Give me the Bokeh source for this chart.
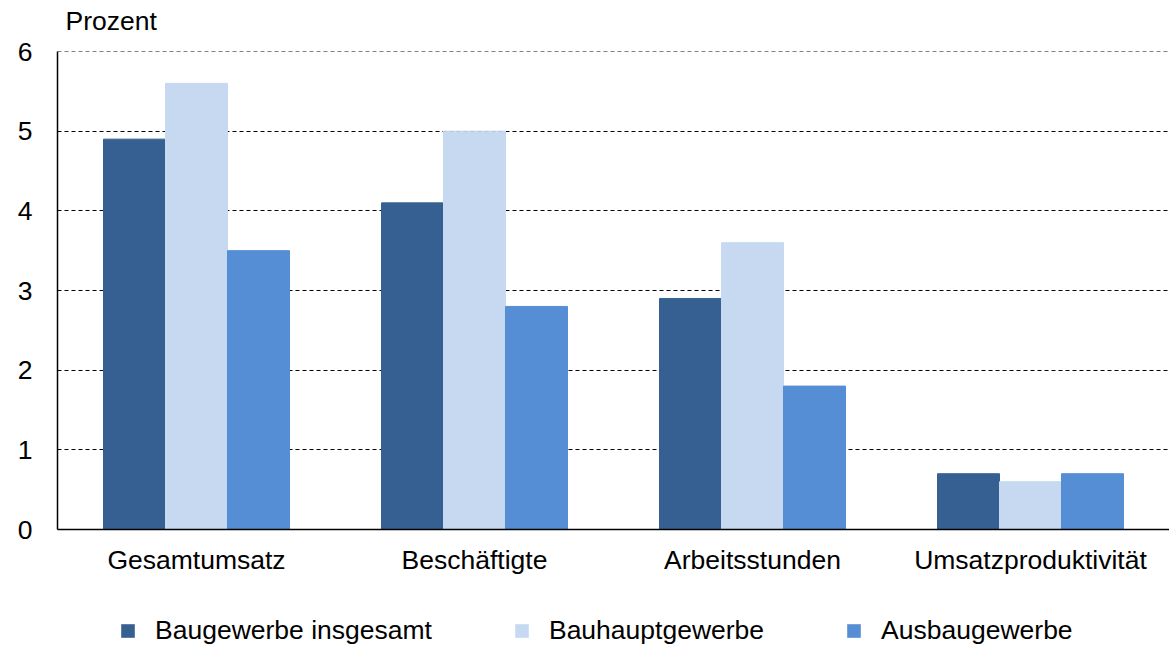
from bokeh.plotting import figure
from bokeh.layouts import column
from bokeh.models import ColumnDataSource, FactorRange, Range1d, Legend, LegendItem, FixedTicker, Span, Label
from bokeh.transform import dodge
from bokeh.embed import file_html
from bokeh.resources import INLINE

categories = ["Gesamtumsatz", "Beschäftigte", "Arbeitsstunden", "Umsatzproduktivität"]
series_names = ["Baugewerbe insgesamt", "Bauhauptgewerbe", "Ausbaugewerbe"]
baugewerbe = [4.9, 4.1, 2.9, 0.7]
bauhaupt = [5.6, 5.0, 3.6, 0.6]
ausbau = [3.5, 2.8, 1.8, 0.7]
y_ticks = [0, 1, 2, 3, 4, 5, 6]
unit_label = "Prozent"

colors = ["#376092", "#C6D9F1", "#558ED5"]
FONT = "Liberation Sans"
FS = "26.5px"

src = ColumnDataSource(dict(cat=categories, a=baugewerbe, b=bauhaupt, c=ausbau))
cols = ["a", "b", "c"]

W = 1169
H_TOP = 36
H_LEG = 60
H_MAIN = 646 - H_TOP - H_LEG


def strip(height, x_range):
    f = figure(width=W, height=height, x_range=x_range, y_range=Range1d(1000, 1001),
               output_backend="svg", toolbar_location=None, x_axis_type=None, y_axis_type=None,
               min_border=0)
    f.min_border_left = 0
    f.min_border_right = 0
    f.min_border_top = 0
    f.min_border_bottom = 0
    f.outline_line_color = None
    f.xgrid.grid_line_color = None
    f.ygrid.grid_line_color = None
    return f


xr = FactorRange(*categories, range_padding=0)

# top strip with unit label
p0 = strip(H_TOP, xr)
p0.add_layout(Label(x=8, y=16, x_units="screen", y_units="screen", text=unit_label,
                    text_font=FONT, text_font_size=FS, text_baseline="middle", text_align="left",
                    text_color="black"))

# main chart
p = figure(x_range=xr, y_range=Range1d(0, 6),
           width=W, height=H_MAIN, output_backend="svg", toolbar_location=None)
p.min_border_left = 57
p.min_border_right = 0
p.min_border_top = 15
p.min_border_bottom = 57
p.outline_line_color = None
p.background_fill_color = "white"
p.border_fill_color = "white"

w = 0.223
for i, col in enumerate(cols):
    p.vbar(x=dodge("cat", (i - 1) * w, range=xr), top=col, width=w, source=src,
           fill_color=colors[i], line_color=colors[i], line_width=1)

p.xgrid.grid_line_color = None
p.ygrid.grid_line_color = "black"
p.ygrid.grid_line_dash = "4 3"
p.ygrid.grid_line_width = 1
p.ygrid.level = "underlay"
p.add_layout(Span(location=max(y_ticks), dimension="width", line_color="black",
                  line_dash="4 3", line_width=1))

p.yaxis.ticker = FixedTicker(ticks=y_ticks)
for ax in (p.xaxis[0], p.yaxis[0]):
    ax.axis_line_color = "black"
    ax.axis_line_width = 1.5
    ax.major_tick_line_color = None
    ax.minor_tick_line_color = None
    ax.major_label_text_font = FONT
    ax.major_label_text_font_size = FS
    ax.major_label_text_color = "black"
p.yaxis.major_label_standoff = 19
p.xaxis.major_label_standoff = 9

# legend strip (bars of the same data fall outside its y-range, only legend shows)
p2 = strip(H_LEG, xr)
items = []
for i, (col, name) in enumerate(zip(cols, series_names)):
    g = p2.vbar(x=dodge("cat", (i - 1) * w, range=xr), top=col, width=w, source=src,
                fill_color=colors[i], line_color=None)
    items.append(LegendItem(label=name, renderers=[g]))

legend = Legend(items=items, orientation="horizontal", location=(62, 0))
legend.padding = 0
legend.margin = 0
legend.spacing = 81
legend.label_standoff = 19
legend.glyph_width = 17
legend.glyph_height = 17
legend.label_text_font = FONT
legend.label_text_font_size = FS
legend.label_text_color = "black"
legend.border_line_color = None
legend.background_fill_alpha = 0
p2.add_layout(legend, "center")

layout = column(p0, p, p2, spacing=0)
open("out.html", "w").write(file_html(layout, INLINE))
